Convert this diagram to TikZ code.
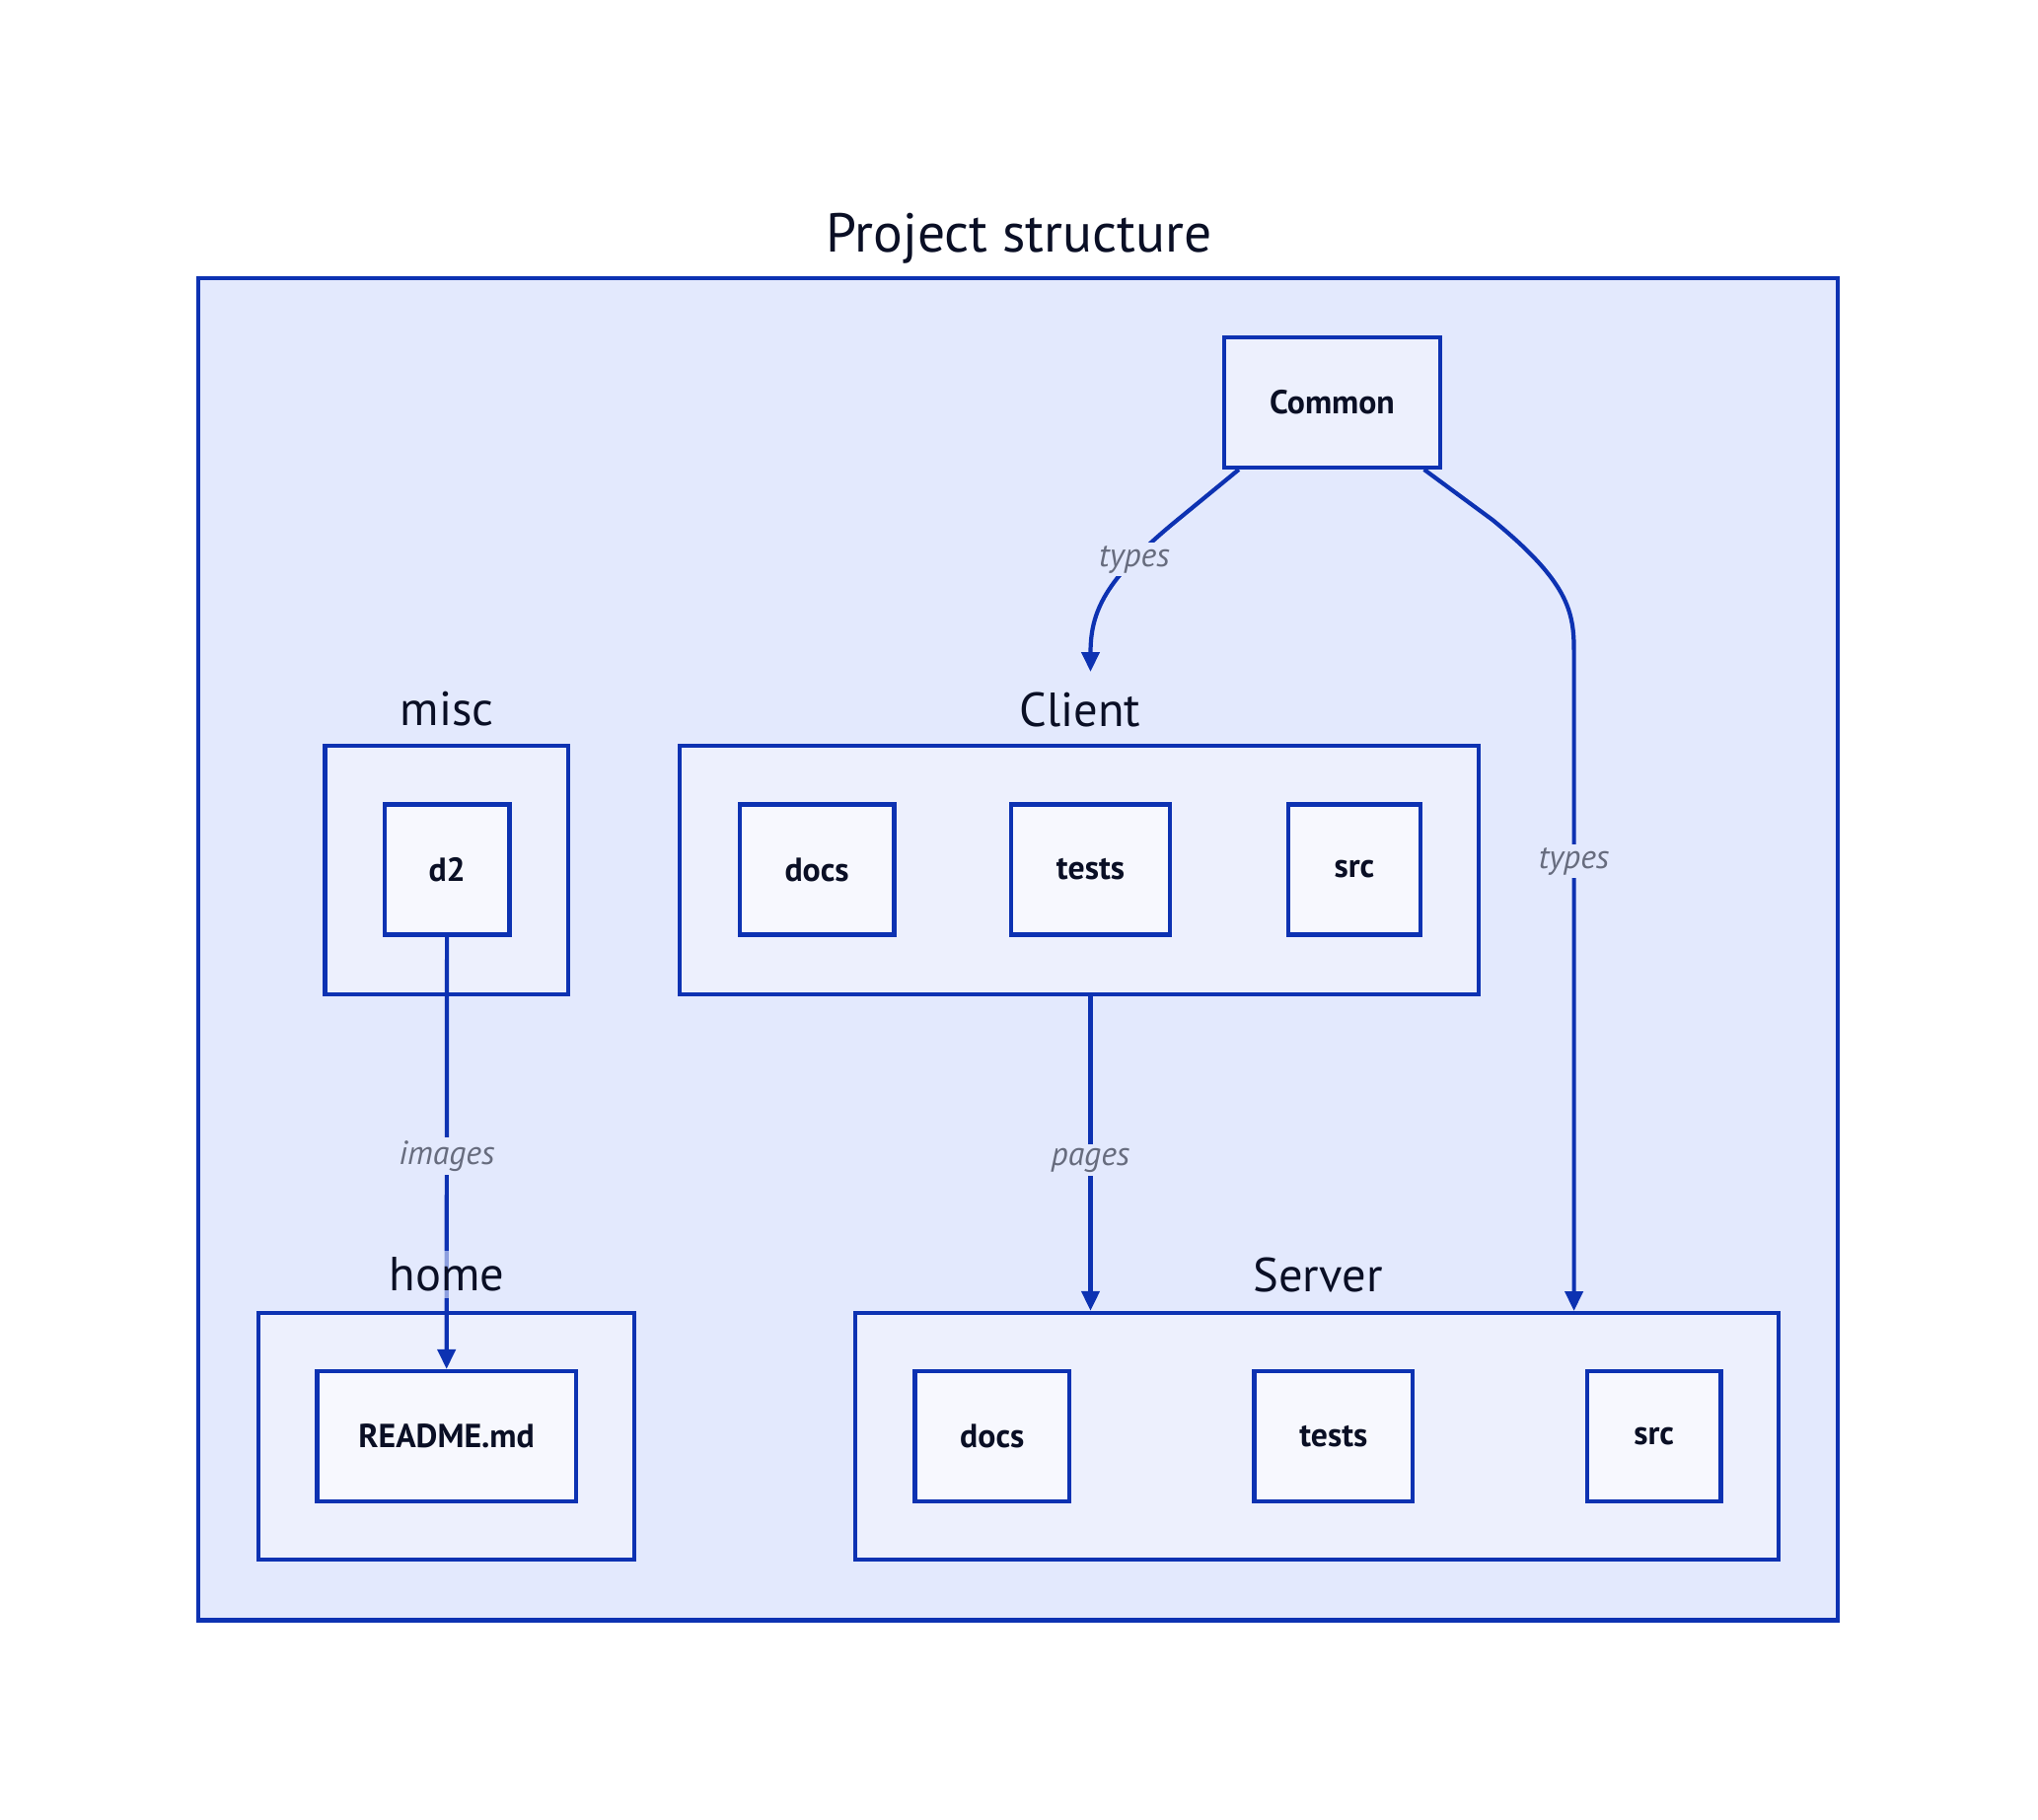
\documentclass[tikz,border=0pt]{standalone}
\usepackage{fontspec}
\setmainfont{PT Sans}
\usetikzlibrary{arrows.meta}
\definecolor{stroke}{HTML}{0D32B2}
\definecolor{bgA}{HTML}{E3E9FD}
\definecolor{bgB}{HTML}{EDF0FD}
\definecolor{bgC}{HTML}{F7F8FE}
\definecolor{ink}{HTML}{0A0F25}
\definecolor{lbl}{HTML}{676C7E}
\begin{document}
\begin{tikzpicture}[x=0.01cm,y=-0.01cm,line width=1.2pt,
grp/.style={draw=stroke,fill=bgB,inner sep=0},
leaf/.style={draw=stroke,fill=bgC,inner sep=0,minimum height=1.32cm,font=\fontsize{9.6}{11}\selectfont\bfseries,text=ink},
ttl/.style={font=\fontsize{13.8}{16}\selectfont,text=ink,inner sep=2pt},
lab/.style={font=\fontsize{9.6}{11}\selectfont\itshape,text=lbl,fill=bgA,inner sep=1pt},
arr/.style={draw=stroke,-{Triangle[width=0.18cm,length=0.2cm]}}]
\useasboundingbox(0,0)rectangle(2066,1844);\fill[white](0,0)rectangle(2066,1844);
% outer frame
\node[draw=stroke,fill=bgA,inner sep=0,minimum width=16.61cm,minimum height=13.6cm](proj)at(1032.3,962){};
\node[ttl,font=\fontsize{15.8}{19}\selectfont](projlbl)at(1033,242){Project structure};
% containers
\node[grp,minimum width=2.46cm,minimum height=2.52cm](misc)at(452.6,882){};
\node[grp,minimum width=8.10cm,minimum height=2.52cm](client)at(1094,882){};
\node[grp,minimum width=3.81cm,minimum height=2.50cm](home)at(452.5,1456){};
\node[grp,minimum width=9.355cm,minimum height=2.50cm](server)at(1334.75,1456){};
% leaves
\node[leaf,fill=bgB,minimum width=2.19cm](common)at(1350.5,407.8){Common};
\node[leaf,minimum width=1.265cm](dtwo)at(453.2,881.5){d2};
\node[leaf,minimum width=1.568cm](cdocs)at(828.1,881.5){docs};\node[leaf,minimum width=1.61cm](ctests)at(1105.5,881.5){tests};\node[leaf,minimum width=1.343cm](csrc)at(1372.9,881.5){src};
\node[leaf,minimum width=2.622cm](readme)at(452.6,1456){README.md};
\node[leaf,minimum width=1.564cm](sdocs)at(1005.8,1456){docs};\node[leaf,minimum width=1.605cm](stests)at(1351.8,1456){tests};\node[leaf,minimum width=1.357cm](ssrc)at(1676.7,1456){src};
% edges
\coordinate(cin)at(1105.5,681);\coordinate(sin)at(1595.6,1329);
\draw[arr]([xshift=0.17cm]common.south west)--(1190,530)..controls(1120,588)and(1105.5,620)..(cin);
\draw[arr]([xshift=-0.185cm]common.south east)--(1513,527)..controls(1590,590)and(1595.6,620)..(1595.6,660)--(sin);
\draw[arr](client.south-|ctests)--(server.north-|ctests);
\draw[arr](dtwo)--(readme);
\node[lab](ltypesa)at(1150,567){types};\node[lab](ltypesb)at(1595.6,873){types};\node[lab](lpages)at(1105.5,1176){pages};\node[lab](limages)at(453,1172){images};
\foreach\n/\t/\p in{misclbl/misc/{453,719},clientlbl/Client/{1095,719},serverlbl/Server/{1336,1292}}{\node[ttl](\n)at(\p){\t};}
\node[ttl,fill=bgA,fill opacity=.6,text opacity=1](homelbl)at(453,1292){home};
\end{tikzpicture}
\end{document}
